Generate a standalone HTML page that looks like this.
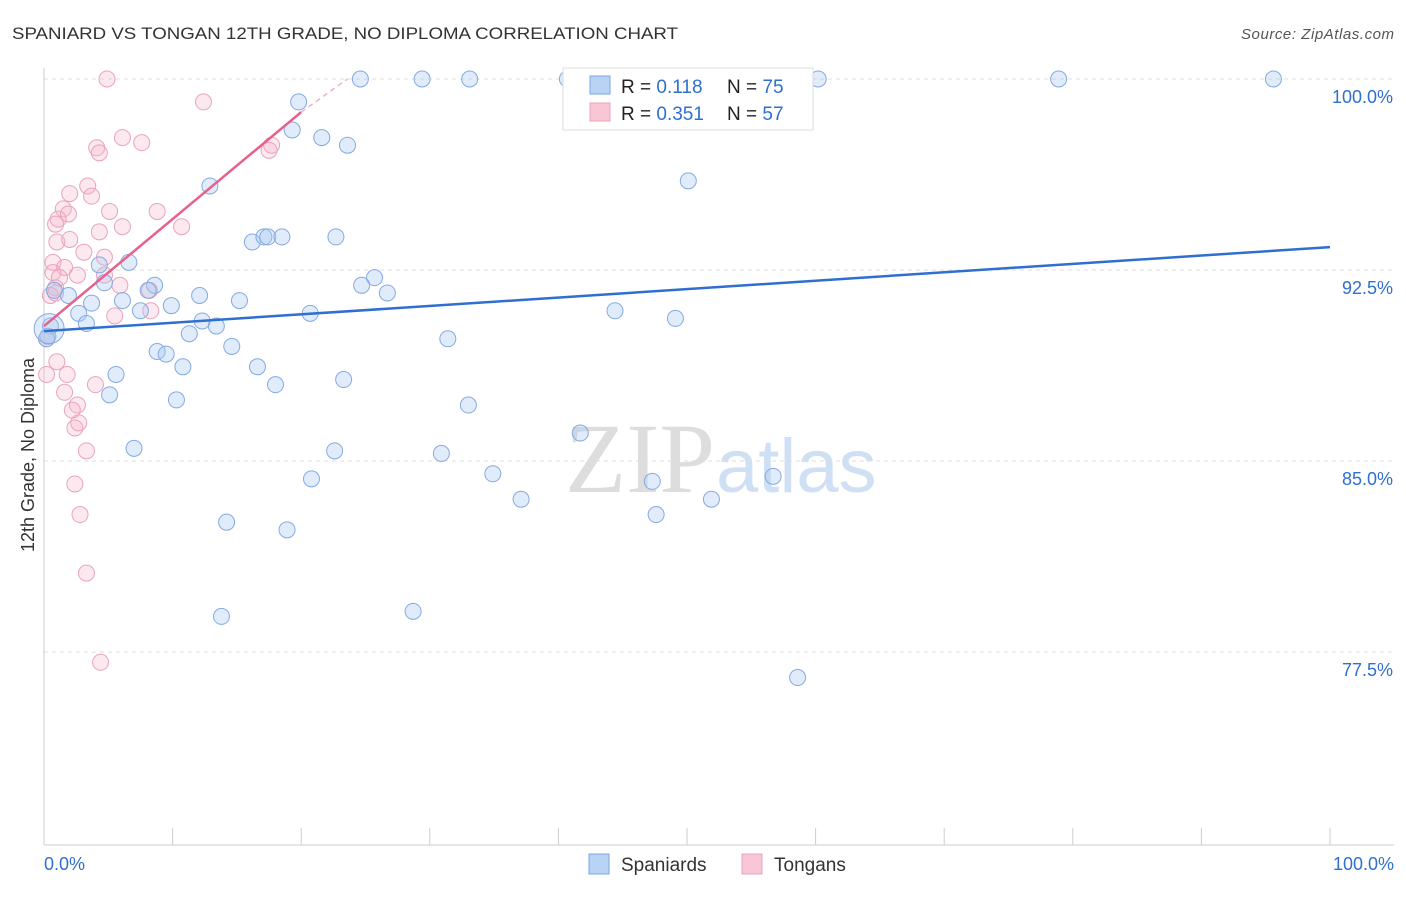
<!DOCTYPE html>
<html><head><meta charset="utf-8"><style>
body{margin:0;background:#fff;font-family:"Liberation Sans",sans-serif;}
</style></head><body>
<svg id="c" width="1406" height="892" xmlns="http://www.w3.org/2000/svg">
<text x="12" y="39" font-size="17" fill="#333" textLength="666" lengthAdjust="spacingAndGlyphs">SPANIARD VS TONGAN 12TH GRADE, NO DIPLOMA CORRELATION CHART</text>
<text x="1394" y="39" font-size="15" fill="#555" font-style="italic" text-anchor="end" textLength="153">Source: ZipAtlas.com</text>
<text x="715" y="492" font-size="100" fill="#ddd" text-anchor="end" font-family="Liberation Serif">ZIP</text>
<text x="716" y="492" font-size="76" fill="#cfe0f5">atlas</text>
<text transform="translate(34,455) rotate(-90)" font-size="18" fill="#333" text-anchor="middle">12th Grade, No Diploma</text>
<g id="grid"></g><g id="marks"></g><g id="lines"></g>
<g>
<rect x="563" y="68" width="250" height="62" fill="#fff" stroke="#ddd"/>
<rect x="590" y="76" width="20" height="18" fill="#b9d3f5" stroke="#7aa6e6"/>
<rect x="590" y="103" width="20" height="18" fill="#f9c6d5" stroke="#eca0b9"/>
<text x="621" y="93" font-size="19" fill="#222">R = <tspan fill="#2f6fd0"> 0.118</tspan><tspan x="727">N = </tspan><tspan fill="#2f6fd0">75</tspan></text>
<text x="621" y="120" font-size="19" fill="#222">R = <tspan fill="#2f6fd0">0.351</tspan><tspan x="727">N = </tspan><tspan fill="#2f6fd0">57</tspan></text>
</g>
<g>
<rect x="589" y="854" width="20" height="20" fill="#b9d3f5" stroke="#7aa6e6"/>
<text x="621" y="871" font-size="19" fill="#333">Spaniards</text>
<rect x="742" y="854" width="20" height="20" fill="#f9c6d5" stroke="#eca0b9"/>
<text x="774" y="871" font-size="19" fill="#333">Tongans</text>
</g>
<text x="44" y="870" font-size="18" fill="#2f6fd0">0.0%</text>
<text x="1394" y="870" font-size="18" fill="#2f6fd0" text-anchor="end">100.0%</text>
</svg>
<script>
const yTicks=[100,92.5,85,77.5];
const yTickLabels=["100.0%","92.5%","85.0%","77.5%"];
const xTicks=[0,10,20,30,40,50,60,70,80,90,100];
const blueX=[24.6,29.4,33.1,40.7,45.4,49.5,60.2,78.9,95.6,19.8,19.3,21.6,23.6,12.9,50.1,16.2,17.1,17.4,18.5,22.7,4.3,6.6,4.7,8.6,8.1,25.7,24.7,26.7,12.1,15.2,9.9,6.1,3.7,1.9,0.8,2.7,3.3,7.5,20.7,44.4,49.1,12.3,13.4,11.3,14.6,31.4,0.5,0.3,8.8,9.5,10.8,16.6,5.6,18.0,23.3,5.1,10.3,33.0,41.7,7.0,22.6,30.9,34.9,20.8,47.3,56.7,37.1,51.9,47.6,14.2,18.9,28.7,13.8,58.6,0.2];
const blueY=[100,100,100,100,100,100,100,100,100,99.1,98.0,97.7,97.4,95.8,96.0,93.6,93.8,93.8,93.8,93.8,92.7,92.8,92.0,91.9,91.7,92.2,91.9,91.6,91.5,91.3,91.1,91.3,91.2,91.5,91.7,90.8,90.4,90.9,90.8,90.9,90.6,90.5,90.3,90.0,89.5,89.8,90.3,89.9,89.3,89.2,88.7,88.7,88.4,88.0,88.2,87.6,87.4,87.2,86.1,85.5,85.4,85.3,84.5,84.3,84.2,84.4,83.5,83.5,82.9,82.6,82.3,79.1,78.9,76.5,89.8];
const pinkX=[4.9,12.4,6.1,7.6,4.1,4.3,17.7,17.5,3.4,2.0,3.7,5.1,8.8,1.5,1.9,1.1,0.9,6.1,4.3,10.7,1.0,2.0,3.1,4.7,0.7,1.6,0.7,2.6,1.2,4.7,5.9,8.2,0.9,0.5,5.5,8.3,1.0,1.8,0.2,4.0,1.6,2.6,2.2,2.4,2.7,3.3,2.4,2.8,3.3,4.4,0.2,0.9];
const pinkY=[100,99.1,97.7,97.5,97.3,97.1,97.4,97.2,95.8,95.5,95.4,94.8,94.8,94.9,94.7,94.5,94.3,94.2,94.0,94.2,93.6,93.7,93.2,93.0,92.8,92.6,92.4,92.3,92.2,92.3,91.9,91.7,91.8,91.5,90.7,90.9,88.9,88.4,88.4,88.0,87.7,87.2,87.0,86.3,86.5,85.4,84.1,82.9,80.6,77.1,89.8,91.6];
const blueFit=[[0,90.1],[100,93.4]];
const pinkFit=[[0,90.3],[20,98.7]];
const pinkExt=[[20,98.7],[23.6,100]];
const X0=44,X1=1330,Y0=79,YS=25.47;
const sx=v=>X0+(X1-X0)*v/100;
const sy=v=>Y0+(100-v)*YS;
const NS="http://www.w3.org/2000/svg";
function mk(t,a,p){const e=document.createElementNS(NS,t);for(const k in a)e.setAttribute(k,a[k]);p.appendChild(e);return e;}
const grid=document.getElementById('grid'),marks=document.getElementById('marks'),lines=document.getElementById('lines');
yTicks.forEach((t,i)=>{
 const l=mk('line',{x1:X0,x2:1394,y1:sy(t),y2:sy(t),stroke:'#ddd','stroke-dasharray':'4,4'},grid);
 
 
 const tx=mk('text',{x:1393,y:sy(t)+24,'font-size':18,fill:'#2f6fd0','text-anchor':'end'},grid);
 tx.textContent=yTickLabels[i];
 
 
});
const ax=mk('line',{x1:X0,x2:1394,y1:845,y2:845,stroke:'#ccc'},grid);


const ay=mk('line',{x1:X0,x2:X0,y1:68,y2:845,stroke:'#ccc'},grid);


xTicks.forEach(t=>{
 const l=mk('line',{x1:sx(t),x2:sx(t),y1:828,y2:845,stroke:'#ccc'},grid);
 
 
});
function pts(xs,ys,fill,stroke,name){
 xs.forEach((x,i)=>{
  const c=mk('circle',{cx:sx(x),cy:sy(ys[i]),r:8,fill:fill,stroke:stroke,'stroke-width':1},marks);
  
  
 });
}
pts(pinkX,pinkY,'rgba(246,180,202,0.3)','#e9a3bc','tongan-point');
pts(blueX,blueY,'rgba(170,200,242,0.35)','#84a9e3','spaniard-point');
const big=mk('circle',{cx:sx(0.4),cy:sy(90.2),r:15,fill:'rgba(170,200,242,0.35)',stroke:'#84a9e3'},marks);


const bl=mk('line',{x1:sx(blueFit[0][0]),y1:sy(blueFit[0][1]),x2:sx(blueFit[1][0]),y2:sy(blueFit[1][1]),stroke:'#2f6fd0','stroke-width':2.5},lines);


const pl=mk('line',{x1:sx(pinkFit[0][0]),y1:sy(pinkFit[0][1]),x2:sx(pinkFit[1][0]),y2:sy(pinkFit[1][1]),stroke:'#e8608c','stroke-width':2.5},lines);


const pe=mk('line',{x1:sx(pinkExt[0][0]),y1:sy(pinkExt[0][1]),x2:sx(pinkExt[1][0]),y2:sy(pinkExt[1][1]),stroke:'#f0b0c4','stroke-width':1.5,'stroke-dasharray':'5,4'},lines);


</script>
</body></html>
